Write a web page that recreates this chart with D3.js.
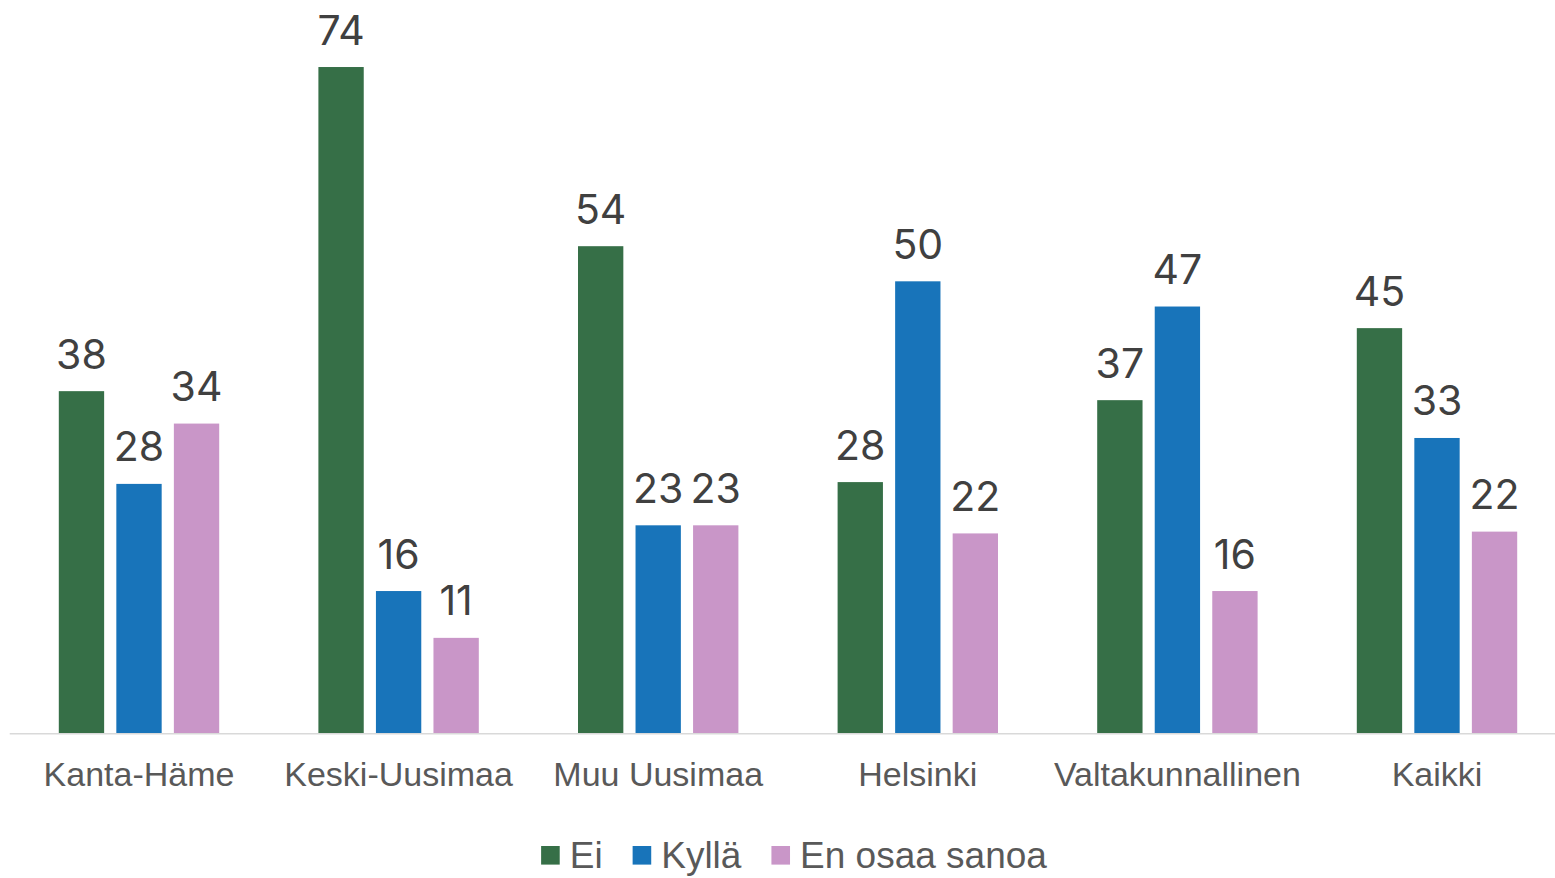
<!DOCTYPE html>
<html>
<head>
<meta charset="utf-8">
<script src="https://cdn.jsdelivr.net/npm/d3@7"></script>
<style>
  html, body { margin: 0; padding: 0; background: #ffffff; overflow: hidden; }
  svg { display: block; }
</style>
</head>
<body>
<svg id="chart" width="1555" height="878"></svg>
<script>
// ---- data ----
const categories = ["Kanta-Häme", "Keski-Uusimaa", "Muu Uusimaa", "Helsinki", "Valtakunnallinen", "Kaikki"];
const seriesNames = ["Ei", "Kyllä", "En osaa sanoa"];
const eiValues = [38.0, 74.0, 54.1, 27.9, 37.0, 45.0];
const kyllaValues = [27.7, 15.8, 23.1, 50.2, 47.4, 32.8];
const eosValues = [34.4, 10.6, 23.1, 22.2, 15.8, 22.4];
const seriesColors = ["#366F47", "#1874BA", "#C996C8"];

const seriesValues = [eiValues, kyllaValues, eosValues];
const rows = categories.map((c, i) => ({
  category: c,
  values: seriesNames.map((s, j) => ({ series: s, idx: j, value: seriesValues[j][i] }))
}));

const svg = d3.select("#chart");

// ---- scales ----
const x0 = d3.scaleBand().domain(categories).range([9.2, 1566.8]).paddingInner(0).paddingOuter(0);
const groupPad = 49.6;
const x1 = d3.scaleBand().domain(seriesNames)
  .range([groupPad, x0.bandwidth() - groupPad])
  .paddingInner(0.212).paddingOuter(0);
const y = d3.scaleLinear().domain([0, 80]).range([733.3, 13]);

// ---- bars ----
const groups = svg.append("g").selectAll("g")
  .data(rows).join("g")
  .attr("transform", d => `translate(${x0(d.category)},0)`);

groups.selectAll("rect")
  .data(d => d.values).join("rect")
  .attr("x", d => x1(d.series))
  .attr("y", d => y(d.value))
  .attr("width", x1.bandwidth())
  .attr("height", d => y(0) - y(d.value))
  .attr("fill", d => seriesColors[d.idx]);

// ---- value labels ----
groups.selectAll("text.val")
  .data(d => d.values).join("text")
  .attr("class", "val")
  .attr("x", d => x1(d.series) + x1.bandwidth() / 2)
  .attr("y", d => y(d.value) - 22.5)
  .attr("text-anchor", "middle")
  .attr("font-family", "Inter, 'Open Sans', sans-serif")
  .attr("font-size", 41)
  .attr("fill", "#404040")
  .text(d => d3.format(".0f")(d.value));

// ---- x axis ----
const xAxis = d3.axisBottom(x0).tickSize(0).tickPadding(0);
const axisG = svg.append("g")
  .attr("transform", `translate(0,${y(0)})`)
  .call(xAxis);
axisG.select(".domain").attr("stroke", "#D9D9D9").attr("stroke-width", 1.5);
axisG.selectAll(".tick text")
  .attr("dy", null)
  .attr("y", 52.5)
  .attr("font-family", "'Liberation Sans', Arial, sans-serif")
  .attr("font-size", 34)
  .attr("fill", "#595959");

// ---- legend ----
const legend = svg.append("g");
const legendFont = 37, sq = 18.6, sqGap = 10, itemGap = 30, legendBaseline = 868, legendCenter = 794;
const items = legend.selectAll("g").data(seriesNames).join("g");
items.append("rect")
  .attr("width", sq).attr("height", sq)
  .attr("y", legendBaseline - 22)
  .attr("fill", (d, i) => seriesColors[i]);
items.append("text")
  .attr("x", sq + sqGap)
  .attr("y", legendBaseline)
  .attr("font-family", "'Liberation Sans', Arial, sans-serif")
  .attr("font-size", legendFont)
  .attr("fill", "#595959")
  .text(d => d);
const widths = [];
items.each(function() { widths.push(sq + sqGap + d3.select(this).select("text").node().getComputedTextLength()); });
const total = d3.sum(widths) + itemGap * (widths.length - 1);
let cx = legendCenter - total / 2;
items.attr("transform", (d, i) => {
  const t = `translate(${cx},0)`;
  cx += widths[i] + itemGap;
  return t;
});
</script>
</body>
</html>
